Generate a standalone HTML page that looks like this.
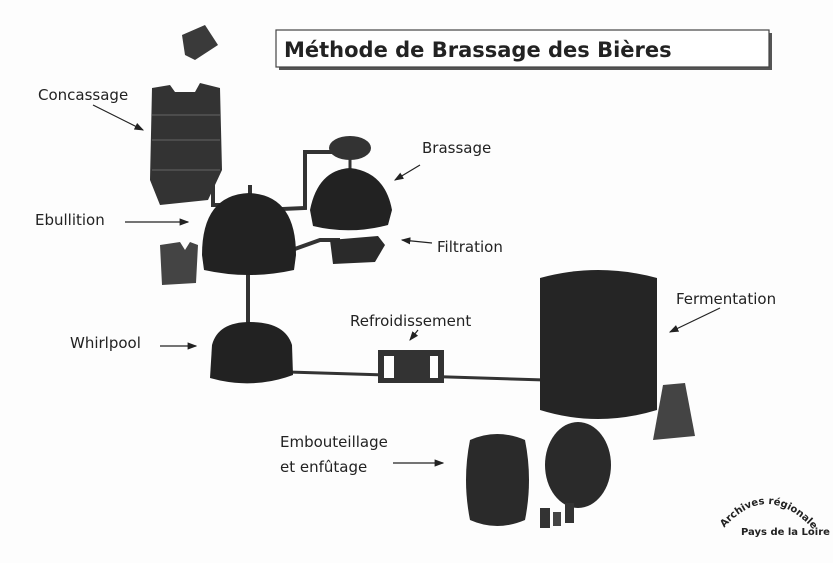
<!DOCTYPE html>
<html><head><meta charset="utf-8"><style>
html,body{margin:0;padding:0;background:#fdfdfd;}
svg{display:block}
text{font-family:"Comic Sans MS","DejaVu Sans","Liberation Sans",sans-serif;fill:#222;}
</style></head><body>
<svg width="833" height="563" viewBox="0 0 833 563" xmlns="http://www.w3.org/2000/svg">
<defs>
<marker id="a" markerWidth="8" markerHeight="8" refX="7" refY="4" orient="auto"><path d="M0,1 L8,4 L0,7 Z" fill="#222"/></marker>
<path id="arc" d="M724,528 Q766,480 812,528"/>
</defs>
<rect width="833" height="563" fill="#fdfdfd"/>
<rect x="279" y="33" width="493" height="37" fill="#555"/>
<rect x="276" y="30" width="493" height="37" fill="#fff" stroke="#444" stroke-width="1.2"/>
<text x="284" y="57" font-size="21" font-weight="bold">Méthode de Brassage des Bières</text>
<polygon points="182,35 205,25 218,45 195,60 185,55" fill="#3a3a3a"/>
<g font-size="15">
<text x="38" y="100">Concassage</text>
<text x="422" y="153">Brassage</text>
<text x="35" y="225">Ebullition</text>
<text x="437" y="252">Filtration</text>
<text x="70" y="348">Whirlpool</text>
<text x="350" y="326">Refroidissement</text>
<text x="676" y="304">Fermentation</text>
<text x="280" y="447">Embouteillage</text>
<text x="280" y="472">et enfûtage</text>
</g>
<g stroke="#222" stroke-width="1.2" marker-end="url(#a)">
<line x1="93" y1="105" x2="143" y2="130"/>
<line x1="420" y1="165" x2="395" y2="180"/>
<line x1="125" y1="222" x2="188" y2="222"/>
<line x1="432" y1="243" x2="402" y2="240"/>
<line x1="160" y1="346" x2="196" y2="346"/>
<line x1="418" y1="330" x2="410" y2="340"/>
<line x1="720" y1="308" x2="670" y2="332"/>
<line x1="393" y1="463" x2="443" y2="463"/>
</g>
<g stroke="#333" stroke-width="4" fill="none">
<path d="M213,180 L213,205 L225,205"/>
<path d="M260,210 L305,208 L305,152 L335,152"/>
<path d="M292,250 L320,240 L340,240"/>
<line x1="248" y1="272" x2="248" y2="328"/>
<line x1="288" y1="372" x2="545" y2="380" stroke-width="3"/>
<line x1="250" y1="185" x2="250" y2="198"/>
</g>
<path d="M152,88 L170,85 L175,92 L195,92 L200,83 L220,88 L222,170 L208,200 L160,205 L150,180 Z" fill="#333"/>
<g stroke="#555" stroke-width="1.5"><line x1="152" y1="115" x2="220" y2="115"/><line x1="152" y1="140" x2="220" y2="140"/><line x1="152" y1="170" x2="220" y2="170"/></g>
<path d="M160,245 L180,242 L185,250 L190,242 L198,245 L196,283 L162,285 Z" fill="#444"/>
<path d="M202,255 Q202,195 249,193 Q296,195 296,255 L294,270 Q249,280 204,270 Z" fill="#222"/>
<ellipse cx="350" cy="148" rx="21" ry="12" fill="#333"/>
<line x1="350" y1="158" x2="350" y2="172" stroke="#333" stroke-width="3"/>
<path d="M310,210 Q318,170 350,168 Q385,172 392,210 L388,225 Q350,235 313,226 Z" fill="#222"/>
<path d="M330,240 L378,236 L385,245 L375,262 L333,264 Z" fill="#2a2a2a"/>
<path d="M212,345 Q218,322 250,322 Q285,322 292,345 L293,375 Q252,390 210,378 Z" fill="#222"/>
<rect x="378" y="350" width="66" height="33" fill="#333"/>
<g fill="#fff"><rect x="384" y="356" width="10" height="22"/><rect x="430" y="356" width="8" height="22"/></g>
<path d="M540,278 Q598,262 657,278 L657,410 Q598,428 540,410 Z" fill="#252525"/>
<path d="M663,385 L685,383 L695,436 L653,440 Z" fill="#444"/>
<path d="M470,440 Q497,428 525,440 Q533,480 525,520 Q497,532 470,520 Q462,480 470,440 Z" fill="#2a2a2a"/>
<ellipse cx="578" cy="465" rx="33" ry="43" fill="#2a2a2a"/>
<rect x="540" y="508" width="10" height="20" fill="#333"/><rect x="553" y="512" width="8" height="14" fill="#444"/><rect x="565" y="503" width="9" height="20" fill="#333"/>
<text font-size="10" font-weight="bold" font-family="Liberation Sans"><textPath href="#arc">Archives régionales</textPath></text>
<text x="741" y="535" font-size="10" font-weight="bold" font-family="Liberation Sans">Pays de la Loire</text>
</svg>
</body></html>
